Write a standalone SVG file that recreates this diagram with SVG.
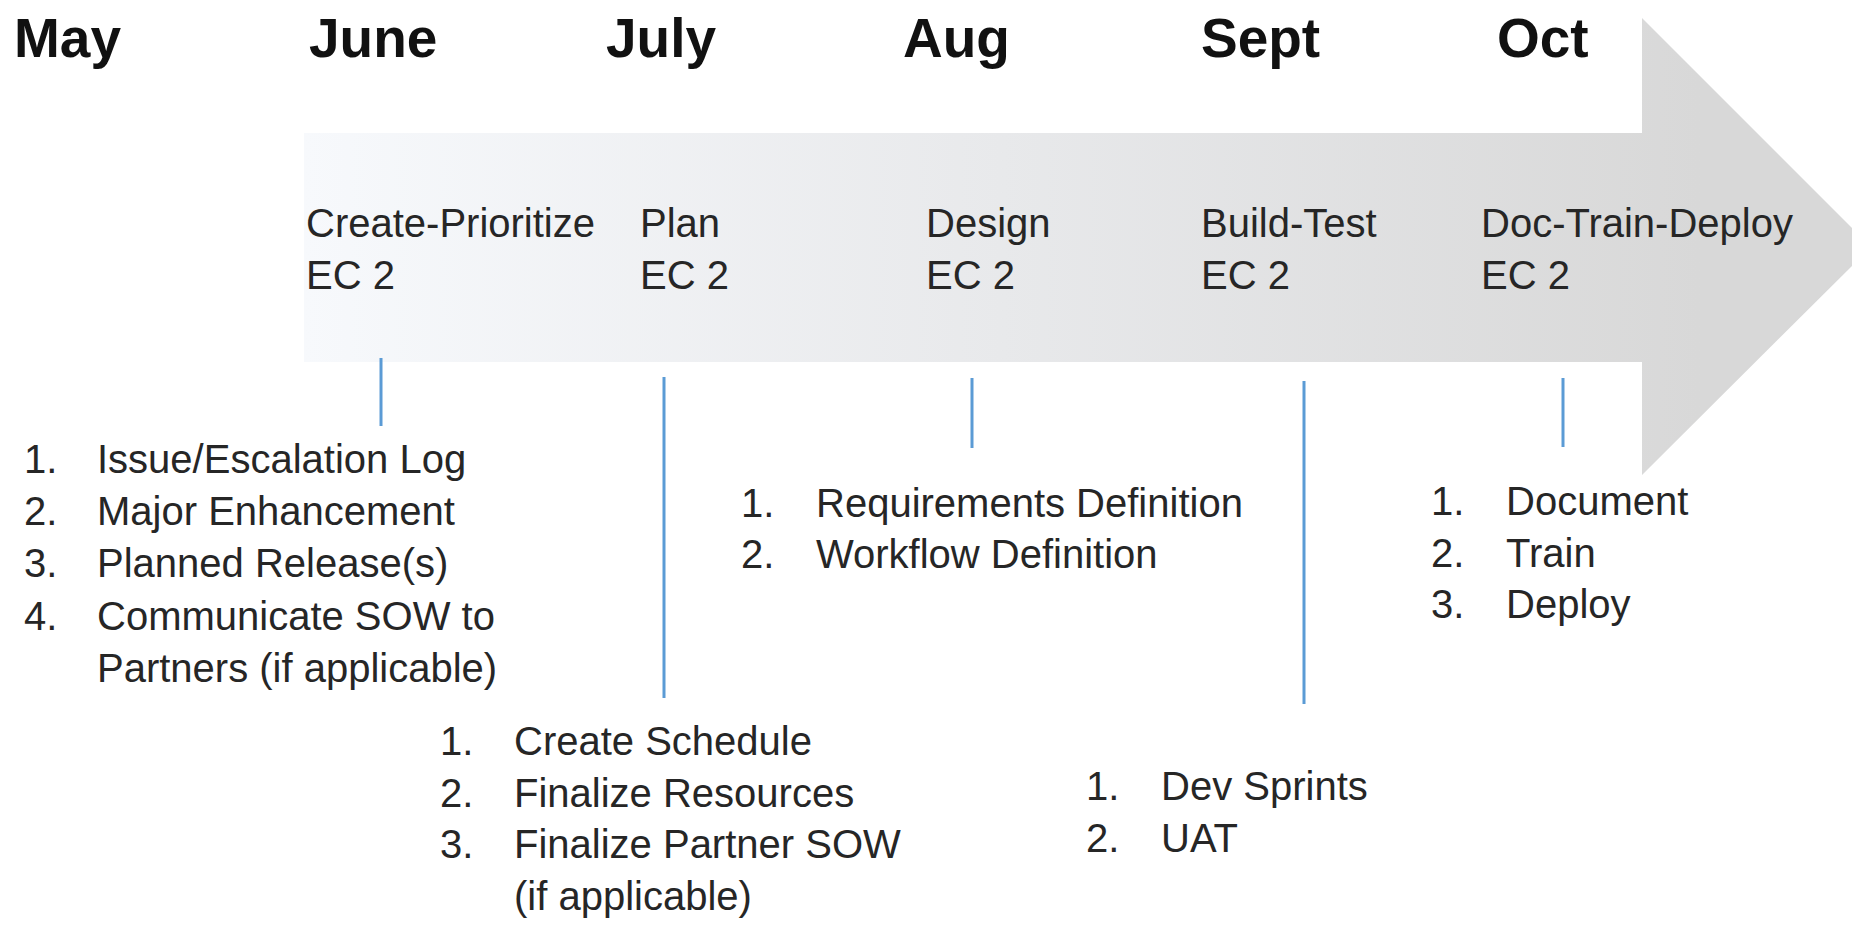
<svg xmlns="http://www.w3.org/2000/svg" width="1852" height="926" viewBox="0 0 1852 926">
<defs>
<linearGradient id="arrowGrad" gradientUnits="userSpaceOnUse" x1="304" y1="0" x2="1700" y2="0">
<stop offset="0" stop-color="#f7f9fc"/>
<stop offset="0.5" stop-color="#e8e9eb"/>
<stop offset="1" stop-color="#d8d8d8"/>
</linearGradient>
<style>
.month{font-family:"Liberation Sans",Arial,sans-serif;font-weight:bold;font-size:55px;fill:#111111}
.t{font-family:"Liberation Sans",Arial,sans-serif;font-size:40px;fill:#262626}
.conn{stroke:#5b9bd5;stroke-width:3;fill:none}
</style>
</defs>
<rect width="1852" height="926" fill="#ffffff"/>
<g id="timeline-arrow">
<polygon points="304,133 1642,133 1642,18 1871,247 1642,475 1642,362 304,362" fill="url(#arrowGrad)"/>
</g>
<g id="months">
<text class="month" x="14" y="57">May</text>
<text class="month" x="309" y="57">June</text>
<text class="month" x="606" y="57">July</text>
<text class="month" x="903" y="57">Aug</text>
<text class="month" x="1201" y="57">Sept</text>
<text class="month" x="1497" y="57">Oct</text>
</g>
<g id="connectors">
<line class="conn" x1="381" y1="358" x2="381" y2="426"/>
<line class="conn" x1="664" y1="377" x2="664" y2="698"/>
<line class="conn" x1="972" y1="378" x2="972" y2="448"/>
<line class="conn" x1="1304" y1="381" x2="1304" y2="704"/>
<line class="conn" x1="1563" y1="378" x2="1563" y2="447"/>
</g>
<g id="stage-create-prioritize">
<text class="t" x="306" y="237">Create-Prioritize</text>
<text class="t" x="306" y="289">EC 2</text>
<text class="t" x="24" y="473">1.</text><text class="t" x="97" y="473">Issue/Escalation Log</text>
<text class="t" x="24" y="525">2.</text><text class="t" x="97" y="525">Major Enhancement</text>
<text class="t" x="24" y="577">3.</text><text class="t" x="97" y="577">Planned Release(s)</text>
<text class="t" x="24" y="630">4.</text><text class="t" x="97" y="630">Communicate SOW to</text>
<text class="t" x="97" y="682">Partners (if applicable)</text>
</g>
<g id="stage-plan">
<text class="t" x="640" y="237">Plan</text>
<text class="t" x="640" y="289">EC 2</text>
<text class="t" x="440" y="755">1.</text><text class="t" x="514" y="755">Create Schedule</text>
<text class="t" x="440" y="807">2.</text><text class="t" x="514" y="807">Finalize Resources</text>
<text class="t" x="440" y="858">3.</text><text class="t" x="514" y="858">Finalize Partner SOW</text>
<text class="t" x="514" y="910">(if applicable)</text>
</g>
<g id="stage-design">
<text class="t" x="926" y="237">Design</text>
<text class="t" x="926" y="289">EC 2</text>
<text class="t" x="741" y="517">1.</text><text class="t" x="816" y="517">Requirements Definition</text>
<text class="t" x="741" y="568">2.</text><text class="t" x="816" y="568">Workflow Definition</text>
</g>
<g id="stage-build-test">
<text class="t" x="1201" y="237">Build-Test</text>
<text class="t" x="1201" y="289">EC 2</text>
<text class="t" x="1086" y="800">1.</text><text class="t" x="1161" y="800">Dev Sprints</text>
<text class="t" x="1086" y="852">2.</text><text class="t" x="1161" y="852">UAT</text>
</g>
<g id="stage-doc-train-deploy">
<text class="t" x="1481" y="237">Doc-Train-Deploy</text>
<text class="t" x="1481" y="289">EC 2</text>
<text class="t" x="1431" y="515">1.</text><text class="t" x="1506" y="515">Document</text>
<text class="t" x="1431" y="567">2.</text><text class="t" x="1506" y="567">Train</text>
<text class="t" x="1431" y="618">3.</text><text class="t" x="1506" y="618">Deploy</text>
</g>
</svg>
